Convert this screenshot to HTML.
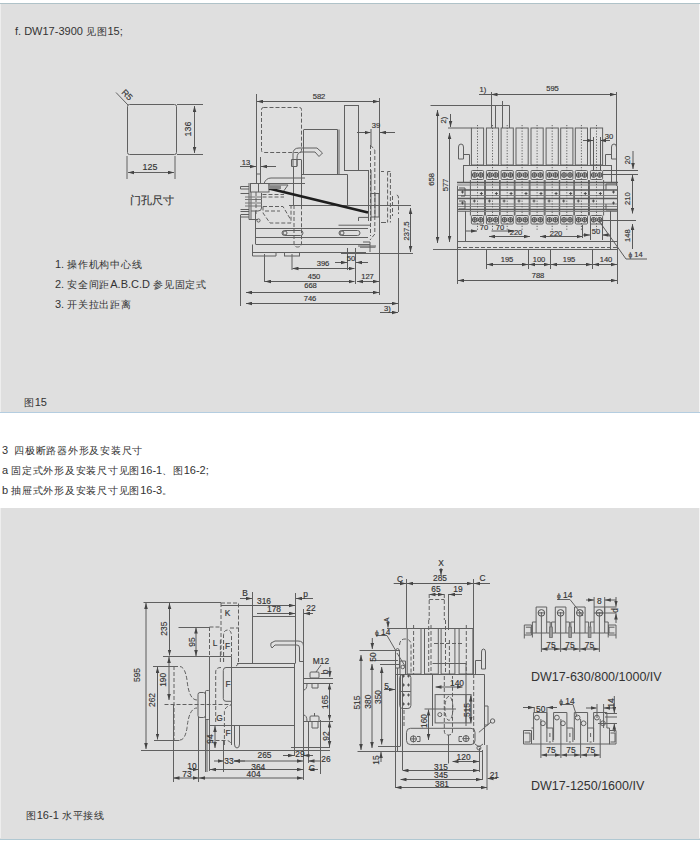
<!DOCTYPE html>
<html><head><meta charset="utf-8">
<style>
html,body{margin:0;padding:0;background:#fff;}
body{width:700px;height:844px;position:relative;overflow:hidden;font-family:"Liberation Sans",sans-serif;color:#333;}
.panel{position:absolute;left:0;width:700px;background:#dfdfdf;}
#p1{top:3px;height:410px;border-top:1px solid #afc2c8;border-bottom:1px solid #b4cde0;box-sizing:border-box;}
#p2{top:508px;height:332px;border-bottom:1px solid #b0c8d2;box-sizing:border-box;}
.edgeL{position:absolute;left:0;width:1px;background:#eeeeee;}
.edgeR{position:absolute;left:699px;width:1px;background:#f4f4f4;}
.t{position:absolute;white-space:nowrap;font-size:11px;line-height:12px;color:#333;}
svg{position:absolute;left:0;top:0;}
.c{font-size:10px;letter-spacing:0.75px;}
svg text{font-family:"Liberation Sans",sans-serif;fill:#333;stroke:#333;stroke-width:0.15px;}
</style></head>
<body>
<div class="panel" id="p1"></div>
<div class="panel" id="p2"></div>
<div class="edgeL" style="top:4px;height:408px"></div>
<div class="edgeR" style="top:4px;height:408px"></div>
<div class="edgeL" style="top:508px;height:330px"></div>
<div class="edgeR" style="top:508px;height:330px"></div>

<div class="t" style="left:15px;top:25px;">f. DW17-3900 <span class="c">见图</span>15;</div>
<div class="t" style="left:55px;top:258px;">1. <span class="c">操作机构中心线</span></div>
<div class="t" style="left:55px;top:278px;">2. <span class="c">安全间距</span>A.B.C.D <span class="c">参见固定式</span></div>
<div class="t" style="left:55px;top:298px;">3. <span class="c">开关拉出距离</span></div>
<div class="t" style="left:24px;top:396px;"><span class="c">图</span>15</div>
<div class="t" style="left:2px;top:444px;">3&nbsp; <span class="c">四极断路器外形及安装尺寸</span></div>
<div class="t" style="left:2px;top:464px;">a <span class="c">固定式外形及安装尺寸见图</span>16-1<span class="c">、图</span>16-2;</div>
<div class="t" style="left:2px;top:484px;">b <span class="c">抽屉式外形及安装尺寸见图</span>16-3<span class="c">。</span></div>
<div class="t" style="left:26px;top:809px;"><span class="c">图</span>16-1 <span class="c">水平接线</span></div>
<div class="t" style="left:531px;top:671px;font-size:12.5px;">DW17-630/800/1000/IV</div>
<div class="t" style="left:531px;top:780px;font-size:12.5px;">DW17-1250/1600/IV</div>

<svg width="700" height="844" viewBox="0 0 700 844" id="drw">
<defs>
<marker id="ar" viewBox="0 0 10 6" refX="10" refY="3" markerWidth="6" markerHeight="4" orient="auto-start-reverse" markerUnits="userSpaceOnUse"><path d="M0,0 L10,3 L0,6 z" fill="#444"/></marker>
</defs>
<g fill="none" stroke="#606060" stroke-width="1">
<!-- drawing 1: door hole -->
<rect x="127.5" y="104.5" width="49" height="50" rx="2"/>
<path d="M177,104.5H203 M177,154.5H203 M127,156V179 M175,156V179 M116,92.5L128,105"/>
<path d="M194.5,106V153" marker-start="url(#ar)" marker-end="url(#ar)"/><path d="M128,172.5H174" marker-start="url(#ar)" marker-end="url(#ar)"/>
</g>
<g font-size="8.9">
<text x="150" y="170" text-anchor="middle">125</text>
<text transform="translate(191,129) rotate(-90)" text-anchor="middle">136</text>
<text transform="translate(125,97) rotate(45)" text-anchor="middle">R5</text>
</g>
<text x="130" y="204" font-size="10.5">门孔尺寸</text>

<!-- drawing 2 : side view -->
<g fill="none" stroke="#606060" stroke-width="1">
<path d="M256.5,94V174 M379.5,98V295 M301.5,160V205 M293.5,166V205"/>
<path d="M303.5,130V174.5 M303.5,129.5H337.5V174.5 M339,129.5V174.5"/>
<rect x="344.5" y="105.5" width="14" height="65"/>
<path d="M301.5,174.5H347.5V205 M344.5,170.5H368 M368.5,170V221 M371,170V221 M289,205.5H411"/>
<path d="M338.5,225.2H370 M358.5,217.4H368 M358.5,217.4V221 M371,193.5H379V217H371 M375,193.5V217 M381,171.5H384 M381,222.5H386 M360,247.2H375.5"/>
<path d="M255.5,228.5H368 M255.5,237.5H368 M255.5,244.5H370 M252.5,252.5H366 M341,253.5H413 M255.5,211V244"/>
<path d="M252.5,244.5V256H276V252.5"/>
<rect x="284.5" y="252.5" width="15" height="3.5"/>
<rect x="282" y="230.5" width="21" height="5" rx="2.5"/>
<circle cx="285" cy="233" r="2"/>
<rect x="339" y="230.5" width="21" height="5" rx="2.5"/>
<circle cx="342" cy="233" r="2"/>
<rect x="250.5" y="183.5" width="18.5" height="8.5"/>
<path d="M258.5,183.5V192 M249,183V219.5H258 M251,192V219.5 M261.5,193V208 Q261.5,211 258,211 H251"/>
<path d="M240.5,186.5H249 M240.5,189H249 M240.5,186.5V189 M240.5,193.5H249 M240.5,209.5H249 M240.5,211.5H249 M240.5,214.5H249 M240.5,217H249 M240.5,215V306"/>
<path d="M245,197H262 M245,199.5H262 M245,203H262 M245,206H262" stroke="#777"/>
<circle cx="258.5" cy="220.5" r="1.6"/>
<path d="M271,178H305 M265,183.5H305 M264,183.5Q266,178 271,178 M268,185H288L283,192"/>
<path d="M256.5,157V183 M260.5,157V183 M256.5,174H260.5 M264.5,254V282 M292,254V270 M355.5,248V284 M398.5,218V312 M363,242H370V252 M358,246H376"/>
<path d="M293,166V154 Q293,148 299,148 H317 L322.5,153 L319,156.5 L315,152 H302 Q297,152 297,158 V166 M291.5,159.5H297V166.5H291.5Z M297,159.5H301.5"/>
</g>
<path d="M269,188.5L368,212.5" stroke="#1e1e1e" stroke-width="2.8" fill="none"/>
<path d="M268,185.5H281V189H268Z" fill="#888" stroke="none"/>
<g fill="none" stroke="#606060" stroke-width="1" stroke-dasharray="4,2">
<rect x="261.5" y="107.5" width="40" height="45" rx="2"/>
<path d="M294,205V243 Q294,247 297.5,247 Q301.5,247 301.5,243 V205"/>
<path d="M263,206.5H283L290,218.5 M263,206.5V213L270,223H291V205 M265,211H280"/>
<path d="M262.5,194.5H284 M262.5,197H284 M256,192V216"/>
<path d="M370.5,145V236 M374.8,150V234 M374.8,234L370,240 M370.5,145L374.8,150"/>
<path d="M387.6,171.5V222.5 M390.4,173V222.5 M387.6,171.5H390.4 M392.5,196V216"/>
<path d="M396.8,195Q398.5,195 398.5,198V214"/>
</g>
<g fill="none" stroke="#5a5a5a" stroke-width="1" marker-start="url(#ar)" marker-end="url(#ar)">
<path d="M257,101.5H379"/>
<path d="M410.5,208V252"/>
<path d="M292.5,268.5H354.5"/>
<path d="M265,281.5H354.5"/>
<path d="M357,281.5H379"/>
<path d="M246,292.5H379"/>
<path d="M246,303.5H398"/>
</g>
<g fill="none" stroke="#5a5a5a" stroke-width="1">
<path d="M240,166.5H256" marker-end="url(#ar)"/>
<path d="M276,166.5H261" marker-end="url(#ar)"/>
<path d="M357,132.5H370.5" marker-end="url(#ar)"/>
<path d="M395,132.5H380" marker-end="url(#ar)"/>
<path d="M335,262.5H347" marker-end="url(#ar)"/>
<path d="M368,262.5H356" marker-end="url(#ar)"/>
<path d="M371,129V145 M347.5,248V270"/>
<path d="M380,312.5H398" marker-end="url(#ar)"/>
</g>
<g font-size="7.6">
<text x="319" y="99" text-anchor="middle">582</text>
<text x="376" y="127.5" text-anchor="middle">39</text>
<text x="246" y="165" text-anchor="middle">13</text>
<text transform="translate(408.5,231) rotate(-90)" text-anchor="middle">237.5</text>
<text x="323" y="266" text-anchor="middle">396</text>
<text x="351" y="260.5" text-anchor="middle">50</text>
<text x="314" y="278.5" text-anchor="middle">450</text>
<text x="367.5" y="278.5" text-anchor="middle">127</text>
<text x="310.5" y="288" text-anchor="middle">668</text>
<text x="310" y="300.5" text-anchor="middle">746</text>
<text x="387.5" y="310.5" text-anchor="middle">3)</text>
</g>
<!-- drawing 3 : front view -->
<g fill="none" stroke="#606060" stroke-width="1">
<rect x="471.4" y="128" width="12.2" height="37"/>
<rect x="486.4" y="128" width="12.2" height="37"/>
<rect x="501.1" y="128" width="12.2" height="37"/>
<rect x="516.0" y="128" width="12.2" height="37"/>
<rect x="531.0" y="128" width="12.2" height="37"/>
<rect x="546.1" y="128" width="12.2" height="37"/>
<rect x="560.7" y="128" width="12.2" height="37"/>
<rect x="575.3" y="128" width="12.2" height="37"/>
<rect x="590.4" y="128" width="12.2" height="37"/>
<path d="M491.5,92V128 M430.5,105.5H509.5 M495.5,105.5V128 M509.5,105.5V128 M502.5,101V128 M448,128H471.4"/>
<path d="M458.5,159V147Q458.5,144 461,144Q463.5,144 463.5,147V159Z M463.5,154.5H469.5V165 M611.5,159V147Q611.5,144 614,144Q616.5,144 616.5,147V159Z M611.5,154.5H605.5V165"/>
<path d="M463.5,165.5H612 M463.5,165V182 M611.5,165V182 M616.5,92V186"/>
<rect x="471.4" y="170.5" width="12.2" height="9" rx="1"/>
<rect x="471.4" y="215.5" width="12.2" height="8.5" rx="1"/>
<path d="M470.4,180V215.5 M484.6,180V215.5"/>
<circle cx="474.7" cy="175" r="2.3" stroke="#444"/><path d="M472.4,175.0H477.0 M474.7,172.7V177.3" stroke="#555"/>
<circle cx="480.7" cy="175" r="2.3" stroke="#444"/><path d="M478.4,175.0H483.0 M480.7,172.7V177.3" stroke="#555"/>
<circle cx="474.7" cy="219.8" r="2.3" stroke="#444"/><path d="M472.4,219.8H477.0 M474.7,217.5V222.10000000000002" stroke="#555"/>
<circle cx="480.7" cy="219.8" r="2.3" stroke="#444"/><path d="M478.4,219.8H483.0 M480.7,217.5V222.10000000000002" stroke="#555"/>
<rect x="486.4" y="170.5" width="12.2" height="9" rx="1"/>
<rect x="486.4" y="215.5" width="12.2" height="8.5" rx="1"/>
<path d="M485.4,180V215.5 M499.6,180V215.5"/>
<circle cx="489.7" cy="175" r="2.3" stroke="#444"/><path d="M487.4,175.0H492.0 M489.7,172.7V177.3" stroke="#555"/>
<circle cx="495.7" cy="175" r="2.3" stroke="#444"/><path d="M493.4,175.0H498.0 M495.7,172.7V177.3" stroke="#555"/>
<circle cx="489.7" cy="219.8" r="2.3" stroke="#444"/><path d="M487.4,219.8H492.0 M489.7,217.5V222.10000000000002" stroke="#555"/>
<circle cx="495.7" cy="219.8" r="2.3" stroke="#444"/><path d="M493.4,219.8H498.0 M495.7,217.5V222.10000000000002" stroke="#555"/>
<rect x="501.1" y="170.5" width="12.2" height="9" rx="1"/>
<rect x="501.1" y="215.5" width="12.2" height="8.5" rx="1"/>
<path d="M500.1,180V215.5 M514.3,180V215.5"/>
<circle cx="504.4" cy="175" r="2.3" stroke="#444"/><path d="M502.1,175.0H506.7 M504.4,172.7V177.3" stroke="#555"/>
<circle cx="510.4" cy="175" r="2.3" stroke="#444"/><path d="M508.1,175.0H512.7 M510.4,172.7V177.3" stroke="#555"/>
<circle cx="504.4" cy="219.8" r="2.3" stroke="#444"/><path d="M502.1,219.8H506.7 M504.4,217.5V222.10000000000002" stroke="#555"/>
<circle cx="510.4" cy="219.8" r="2.3" stroke="#444"/><path d="M508.1,219.8H512.7 M510.4,217.5V222.10000000000002" stroke="#555"/>
<rect x="516.0" y="170.5" width="12.2" height="9" rx="1"/>
<rect x="516.0" y="215.5" width="12.2" height="8.5" rx="1"/>
<path d="M515.0,180V215.5 M529.2,180V215.5"/>
<circle cx="519.3" cy="175" r="2.3" stroke="#444"/><path d="M517.0,175.0H521.6 M519.3,172.7V177.3" stroke="#555"/>
<circle cx="525.3" cy="175" r="2.3" stroke="#444"/><path d="M523.0,175.0H527.6 M525.3,172.7V177.3" stroke="#555"/>
<circle cx="519.3" cy="219.8" r="2.3" stroke="#444"/><path d="M517.0,219.8H521.6 M519.3,217.5V222.10000000000002" stroke="#555"/>
<circle cx="525.3" cy="219.8" r="2.3" stroke="#444"/><path d="M523.0,219.8H527.6 M525.3,217.5V222.10000000000002" stroke="#555"/>
<rect x="531.0" y="170.5" width="12.2" height="9" rx="1"/>
<rect x="531.0" y="215.5" width="12.2" height="8.5" rx="1"/>
<path d="M530.0,180V215.5 M544.2,180V215.5"/>
<circle cx="534.3" cy="175" r="2.3" stroke="#444"/><path d="M532.0,175.0H536.6 M534.3,172.7V177.3" stroke="#555"/>
<circle cx="540.3" cy="175" r="2.3" stroke="#444"/><path d="M538.0,175.0H542.6 M540.3,172.7V177.3" stroke="#555"/>
<circle cx="534.3" cy="219.8" r="2.3" stroke="#444"/><path d="M532.0,219.8H536.6 M534.3,217.5V222.10000000000002" stroke="#555"/>
<circle cx="540.3" cy="219.8" r="2.3" stroke="#444"/><path d="M538.0,219.8H542.6 M540.3,217.5V222.10000000000002" stroke="#555"/>
<rect x="546.1" y="170.5" width="12.2" height="9" rx="1"/>
<rect x="546.1" y="215.5" width="12.2" height="8.5" rx="1"/>
<path d="M545.1,180V215.5 M559.3,180V215.5"/>
<circle cx="549.4" cy="175" r="2.3" stroke="#444"/><path d="M547.1,175.0H551.7 M549.4,172.7V177.3" stroke="#555"/>
<circle cx="555.4" cy="175" r="2.3" stroke="#444"/><path d="M553.1,175.0H557.7 M555.4,172.7V177.3" stroke="#555"/>
<circle cx="549.4" cy="219.8" r="2.3" stroke="#444"/><path d="M547.1,219.8H551.7 M549.4,217.5V222.10000000000002" stroke="#555"/>
<circle cx="555.4" cy="219.8" r="2.3" stroke="#444"/><path d="M553.1,219.8H557.7 M555.4,217.5V222.10000000000002" stroke="#555"/>
<rect x="560.7" y="170.5" width="12.2" height="9" rx="1"/>
<rect x="560.7" y="215.5" width="12.2" height="8.5" rx="1"/>
<path d="M559.7,180V215.5 M573.9,180V215.5"/>
<circle cx="564.0" cy="175" r="2.3" stroke="#444"/><path d="M561.7,175.0H566.3 M564.0,172.7V177.3" stroke="#555"/>
<circle cx="570.0" cy="175" r="2.3" stroke="#444"/><path d="M567.7,175.0H572.3 M570.0,172.7V177.3" stroke="#555"/>
<circle cx="564.0" cy="219.8" r="2.3" stroke="#444"/><path d="M561.7,219.8H566.3 M564.0,217.5V222.10000000000002" stroke="#555"/>
<circle cx="570.0" cy="219.8" r="2.3" stroke="#444"/><path d="M567.7,219.8H572.3 M570.0,217.5V222.10000000000002" stroke="#555"/>
<rect x="575.3" y="170.5" width="12.2" height="9" rx="1"/>
<rect x="575.3" y="215.5" width="12.2" height="8.5" rx="1"/>
<path d="M574.3,180V215.5 M588.5,180V215.5"/>
<circle cx="578.6" cy="175" r="2.3" stroke="#444"/><path d="M576.3,175.0H580.9 M578.6,172.7V177.3" stroke="#555"/>
<circle cx="584.6" cy="175" r="2.3" stroke="#444"/><path d="M582.3,175.0H586.9 M584.6,172.7V177.3" stroke="#555"/>
<circle cx="578.6" cy="219.8" r="2.3" stroke="#444"/><path d="M576.3,219.8H580.9 M578.6,217.5V222.10000000000002" stroke="#555"/>
<circle cx="584.6" cy="219.8" r="2.3" stroke="#444"/><path d="M582.3,219.8H586.9 M584.6,217.5V222.10000000000002" stroke="#555"/>
<rect x="590.4" y="170.5" width="12.2" height="9" rx="1"/>
<rect x="590.4" y="215.5" width="12.2" height="8.5" rx="1"/>
<path d="M589.4,180V215.5 M603.6,180V215.5"/>
<circle cx="593.7" cy="175" r="2.3" stroke="#444"/><path d="M591.4,175.0H596.0 M593.7,172.7V177.3" stroke="#555"/>
<circle cx="599.7" cy="175" r="2.3" stroke="#444"/><path d="M597.4,175.0H602.0 M599.7,172.7V177.3" stroke="#555"/>
<circle cx="593.7" cy="219.8" r="2.3" stroke="#444"/><path d="M591.4,219.8H596.0 M593.7,217.5V222.10000000000002" stroke="#555"/>
<circle cx="599.7" cy="219.8" r="2.3" stroke="#444"/><path d="M597.4,219.8H602.0 M599.7,217.5V222.10000000000002" stroke="#555"/>
<path d="M457,182.5H618 M457,190H618 M457,198.5H618 M457,209.5H618" stroke="#5a5a5a" stroke-width="1.3"/><path d="M457,185H618 M457,195.5H618 M457,204H618 M457,206.5H618 M457,211.5H618" stroke="#808080"/>
<path d="M457.5,186V284 M465.5,211V241 M617.5,186V284 M610.5,211V241 M457,241.5H618 M433,249.5H618"/>
<path d="M459,188H465V196H461 M459,201H465V209H459" stroke="#555"/>
</g>
<path d="M479.9,193.5h3M481.4,192v3 M472.9,201h3M474.4,199.5v3 M494.9,193.5h3M496.4,192v3 M487.9,201h3M489.4,199.5v3 M509.6,193.5h3M511.1,192v3 M502.6,201h3M504.1,199.5v3 M524.5,193.5h3M526.0,192v3 M517.5,201h3M519.0,199.5v3 M539.5,193.5h3M541.0,192v3 M532.5,201h3M534.0,199.5v3 M554.6,193.5h3M556.1,192v3 M547.6,201h3M549.1,199.5v3 M569.2,193.5h3M570.7,192v3 M562.2,201h3M563.7,199.5v3 M583.8,193.5h3M585.3,192v3 M576.8,201h3M578.3,199.5v3 M598.9,193.5h3M600.4,192v3 M591.9,201h3M593.4,199.5v3 M461,192h3M462.5,190.5v3 M461,203h3M462.5,201.5v3 M612,192h3M613.5,190.5v3 M612,203h3M613.5,201.5v3" stroke="#444" stroke-width="0.9" fill="none"/>
<path d="M477.5,125V230 M492.5,125V230 M507.2,125V230 M522.1,125V230 M537.1,125V230 M552.2,125V230 M566.8,125V230 M581.4,125V230 M596.5,125V230" stroke="#555" stroke-width="0.9" stroke-dasharray="1.2,1.6" fill="none"/>
<path d="M457,247.5H618" stroke="#606060" stroke-dasharray="4,2" fill="none"/>
<g fill="none" stroke="#5a5a5a" stroke-width="1">
<path d="M491.5,94.5H616" marker-start="url(#ar)" marker-end="url(#ar)"/>
<path d="M479,94.5H491"/>
<path d="M437.5,110V243" marker-start="url(#ar)" marker-end="url(#ar)"/>
<path d="M449.5,133V242" marker-start="url(#ar)" marker-end="url(#ar)"/>
<path d="M450.5,114V127" marker-end="url(#ar)"/>
<path d="M583,140.5H593" marker-end="url(#ar)"/><path d="M610,140.5H600" marker-end="url(#ar)"/><path d="M593.5,137V170 M600.5,137V170"/>
<path d="M633,151V169" marker-end="url(#ar)"/>
<path d="M603,170.5H638 M603,174.5H638 M600,220.5H636"/>
<path d="M632.5,175V213.5" marker-start="url(#ar)" marker-end="url(#ar)"/>
<path d="M632.5,224V249" marker-start="url(#ar)"/>
<path d="M466,231H477" marker-end="url(#ar)"/><path d="M491.5,231H514" marker-end="url(#ar)"/>
<path d="M489,236.5H530" marker-start="url(#ar)" marker-end="url(#ar)"/><path d="M540,236.5H582.5" marker-start="url(#ar)" marker-end="url(#ar)"/>
<path d="M583,235H590" marker-end="url(#ar)"/><path d="M610,235H602.5" marker-end="url(#ar)"/>
<path d="M582.5,225V238 M590.5,222V240 M602.5,222V240 M610.5,212V250 M606,184H617 M606,184V190 M606,210H617 M606,204V210"/>
<path d="M486.5,249V269 M528.5,249V269 M550.5,249V269 M592.5,249V269"/>
<path d="M487,264.5H528" marker-start="url(#ar)" marker-end="url(#ar)"/><path d="M529,264.5H550" marker-start="url(#ar)" marker-end="url(#ar)"/><path d="M551,264.5H592" marker-start="url(#ar)" marker-end="url(#ar)"/><path d="M593,264.5H617" marker-start="url(#ar)" marker-end="url(#ar)"/>
<path d="M458,280.5H617" marker-start="url(#ar)" marker-end="url(#ar)"/>
<path d="M599,221L626,259H647"/>
</g>
<g font-size="7.6">
<text x="552.5" y="91" text-anchor="middle">595</text>
<text x="483" y="92" text-anchor="middle">1)</text>
<text x="609" y="139" text-anchor="middle">30</text>
<text x="507" y="262" text-anchor="middle">195</text>
<text x="539" y="262" text-anchor="middle">100</text>
<text x="569" y="262" text-anchor="middle">195</text>
<text x="606" y="262" text-anchor="middle">140</text>
<text x="538" y="277.5" text-anchor="middle">788</text>
<text x="484" y="229.8" text-anchor="middle">70</text>
<text x="500" y="229.8" text-anchor="middle">70</text>
<text x="516" y="235" text-anchor="middle">220</text>
<text x="556" y="235.5" text-anchor="middle">220</text>
<text x="596" y="233.5" text-anchor="middle">50</text>
<text transform="translate(433.5,179.3) rotate(-90)" text-anchor="middle">658</text>
<text transform="translate(447.5,185) rotate(-90)" text-anchor="middle">577</text>
<text transform="translate(445.5,120) rotate(-90)" text-anchor="middle">2)</text>
<text transform="translate(629.5,160) rotate(-90)" text-anchor="middle">20</text>
<text transform="translate(629.5,198.6) rotate(-90)" text-anchor="middle">210</text>
<text transform="translate(629.5,235.7) rotate(-90)" text-anchor="middle">148</text>
<text x="628.5" y="257"><tspan font-size="6.5">ϕ</tspan> 14</text>
</g>
<!-- bottom drawing 1 : side view -->
<g fill="none" stroke="#606060" stroke-width="1">
<path d="M143.5,602.5H221 M178.5,627.5H209 M163,656.5H209.5 M153,666.5H178 M154,740.5H179.5 M141,750.5H330"/>
<path d="M209.5,656.5V771 M209.5,656.5H231.5V745 M209.5,725.5H231.5 M231.5,667.5H226Q223.3,667.5 223.3,670.5V698.5Q223.3,701.3 226,701.3H231.5"/>
<rect x="198" y="692.5" width="7.5" height="25" rx="2"/><rect x="205.5" y="690.5" width="4" height="29" rx="1"/>
<path d="M198.5,717V782 M205.5,719V772 M207,719V772"/>
<path d="M252.5,592V663 M295.5,593V663 M303.5,609V780 M252.5,616.5H295.5"/>
<path d="M237,663.5H295.5 M230,667.5H294.5 M294.5,663V756 M232,725.5H294.5 M232,750.5H294.5"/>
<path d="M234.5,725.5V744Q234.5,748 237,748Q239.5,748 239.5,744V725.5"/>
<path d="M271,643Q270,646 272,648L275,645H297Q299.5,645 299.5,648V661.5H303.5V646Q303.5,641 298,641H275Z"/>
<path d="M303,678.5H333 M303,683.5H333 M303,721.5H333 M291,747.5H330 M308.5,721V763 M320.5,720V774"/>
<rect x="310" y="672" width="9" height="6" rx="1"/><path d="M312,683.5V688H318V683.5 M307,683.5Q307,690 303.5,690"/>
<rect x="310" y="716" width="9" height="5.5" rx="1"/><path d="M312,721.5V728H318V721.5 M314.5,713V716 M307,721.5Q307,715 303.5,715"/>
<path d="M321,665L316,672"/>
<path d="M173.5,704V782 M223.5,740V772"/>
</g>
<g fill="none" stroke="#606060" stroke-width="1" stroke-dasharray="4,2">
<path d="M221,603V656 M221,603H238.5V657 M230,628H238.5 M209.5,627V656 M209.5,627H221"/>
<path d="M223.5,662V636Q223.5,630 227.5,630Q231.5,630 231.5,636V656"/>
<path d="M164.5,704.5H231 M174,666V740"/>
<path d="M180,666.5Q185,667 187,680Q189,700 197,700 M180,740Q185,740 187,728Q189,708 197,708"/>
<path d="M215.7,722V672Q215.7,667.5 221,667.5 M224.4,745V712Q224.4,707 231,705 M209.5,740.5H226Q231,740.5 231,745 M220.4,640V664 M223.6,640V664 M238.5,628V662Q238.5,665 236,666"/>
</g>
<g fill="none" stroke="#5a5a5a" stroke-width="1">
<path d="M146,603V749" marker-start="url(#ar)" marker-end="url(#ar)"/><path d="M169.5,603V655.5" marker-start="url(#ar)" marker-end="url(#ar)"/><path d="M196,627.5V656" marker-start="url(#ar)" marker-end="url(#ar)"/><path d="M169,657V700" marker-start="url(#ar)" marker-end="url(#ar)"/><path d="M157.5,667V739.5" marker-start="url(#ar)" marker-end="url(#ar)"/><path d="M215,726V748" marker-start="url(#ar)" marker-end="url(#ar)"/><path d="M329.5,683.5V720.5" marker-start="url(#ar)" marker-end="url(#ar)"/><path d="M329.5,721.5V747" marker-start="url(#ar)" marker-end="url(#ar)"/>
<path d="M173.5,778H198.5" marker-start="url(#ar)" marker-end="url(#ar)"/><path d="M199,778H303" marker-start="url(#ar)" marker-end="url(#ar)"/><path d="M210,769.5H303" marker-start="url(#ar)" marker-end="url(#ar)"/><path d="M234,761H303" marker-start="url(#ar)" marker-end="url(#ar)"/>
<path d="M221,605.5H295" marker-end="url(#ar)"/><path d="M257,613.5H295" marker-end="url(#ar)"/>
<path d="M240,598.5H252" marker-end="url(#ar)"/><path d="M313,598.5H296" marker-end="url(#ar)"/><path d="M313,613.5H304" marker-end="url(#ar)"/>
<path d="M189.5,769.5H198.5" marker-end="url(#ar)"/>
<path d="M214,761H223.5" marker-end="url(#ar)"/><path d="M245,761H234" marker-end="url(#ar)"/>
<path d="M283,755.5H294" marker-end="url(#ar)"/><path d="M313,755.5H303.5" marker-end="url(#ar)"/>
<path d="M320.5,761H308.5" marker-end="url(#ar)"/>
<path d="M318,769.5H308.5" marker-end="url(#ar)"/>
<path d="M329.8,667V677" marker-end="url(#ar)"/>
</g>
<g font-size="8.4">
<text x="264" y="603.5" text-anchor="middle">316</text>
<text x="274" y="611.5" text-anchor="middle">178</text>
<text x="245" y="596" text-anchor="middle">B</text>
<text x="305.5" y="597" text-anchor="middle">p</text>
<text x="311" y="610.5" text-anchor="middle">22</text>
<text x="321" y="664" text-anchor="middle">M12</text>
<text x="264.5" y="758" text-anchor="middle">265</text>
<text x="300" y="757" text-anchor="middle">29</text>
<text x="326" y="761.5" text-anchor="middle">26</text>
<text x="258.3" y="769.5" text-anchor="middle">364</text>
<text x="311.7" y="771" text-anchor="middle">C</text>
<text x="253.6" y="777" text-anchor="middle">404</text>
<text x="192" y="768.5" text-anchor="middle">10</text>
<text x="187" y="777" text-anchor="middle">73</text>
<text x="229" y="764" text-anchor="middle">33</text>
<text transform="translate(140,675) rotate(-90)" text-anchor="middle">595</text>
<text transform="translate(167,628.7) rotate(-90)" text-anchor="middle">235</text>
<text transform="translate(194.5,642) rotate(-90)" text-anchor="middle">95</text>
<text transform="translate(166,679.8) rotate(-90)" text-anchor="middle">190</text>
<text transform="translate(155,700) rotate(-90)" text-anchor="middle">262</text>
<text transform="translate(213,739) rotate(-90)" text-anchor="middle">94</text>
<text transform="translate(327.5,702) rotate(-90)" text-anchor="middle">165</text>
<text transform="translate(329,736) rotate(-90)" text-anchor="middle">92</text>
<text transform="translate(328,672) rotate(-90)" text-anchor="middle">b</text>
<text x="227.5" y="616" text-anchor="middle">K</text>
<text x="215" y="646" text-anchor="middle">L</text>
<text x="227.5" y="649" text-anchor="middle">F</text>
<text x="228" y="687" text-anchor="middle">F</text>
<text x="219.6" y="720.5" text-anchor="middle">G</text>
<text x="228" y="735.5" text-anchor="middle">F</text>
</g>
<!-- bottom drawing 2 : front view -->
<g fill="none" stroke="#606060" stroke-width="1">
<rect x="407.2" y="628.5" width="13.8" height="45.5"/>
<rect x="424.5" y="628.5" width="13.8" height="45.5"/>
<rect x="441.1" y="628.5" width="13.8" height="45.5"/>
<rect x="459.1" y="628.5" width="13.8" height="45.5"/>
<path d="M406.5,579V628.5 M473.5,579V674 M448.5,594V630 M387,628.5H473.5"/>
<path d="M359.5,650.5H400 M370,660.5H398 M380,664.5H400"/>
<path d="M396,674.5H484.5V745 M395.5,668V788 M397.5,668V751 M400.5,674V746 M402.5,674V770"/>
<path d="M395.5,668V652Q395.5,648.5 397.5,648.5Q399.5,648.5 399.5,652V668Z M400,674V661H405.5V674"/><circle cx="402.7" cy="667" r="1.8" fill="none" stroke="#606060"/>
<path d="M481.5,669V652Q481.5,649 483.5,649Q485.5,649 485.5,652V669Z M481,660.5H475.5V674"/>
<rect x="399.7" y="674.5" width="11.2" height="34" rx="3"/>
<path d="M399.7,691.5H410.9"/>
<path d="M432.5,674V726 M466,674V726 M432.5,663.5H466V674"/>
<rect x="435.1" y="694.6" width="36" height="28.3"/>
<path d="M466,694.6V722.9"/>
<circle cx="439.8" cy="714.6" r="2"/>
<path d="M424.5,709H456"/>
<rect x="406.5" y="728.3" width="68.5" height="16.3" rx="4"/>
<circle cx="413.4" cy="738.9" r="3"/><path d="M410,738.9H417 M413.4,735.5V742.3 M417,736.5H420V741.5H417"/>
<circle cx="466" cy="738.6" r="3"/><path d="M462.5,738.6H469.5 M466,735V742 M462,736.5H459V741.5H462"/>
<path d="M448.5,735V763.5 M357.5,751.5H482 M378,746.5H400.5"/>
<circle cx="478.9" cy="747.9" r="2"/><path d="M475,744L479,747L483,744"/>
<path d="M479.5,748V772 M482.5,750V780 M487,745V790 M485,706H488V725H485"/>
<path d="M478.9,732.3L491,722"/><circle cx="492.6" cy="721" r="2.2"/>
<path d="M376,635.5H387L396,651 M397,653L405,666"/>
<path d="M402,676h3M403.5,674.5v3 M407,676h3M408.5,674.5v3 M402,685h3M403.5,683.5v3 M407,685h3M408.5,683.5v3 M402,695h3M403.5,693.5v3 M407,695h3M408.5,693.5v3 M402,704h3M403.5,702.5v3 M407,704h3M408.5,702.5v3" stroke="#555"/>
</g>
<g fill="none" stroke="#606060" stroke-width="1" stroke-dasharray="4,2">
<path d="M429.2,594V620 M444.3,594V620 M429.2,599.5H444.3"/><path d="M413.6,625V674 M428.7,620V674 M431,625V674 M445.5,620V674 M449.4,640V674 M466.3,625V674 M434,643.5H463 M399.5,645Q400,639 405,639Q411,639 411,645V674"/>




<path d="M444.3,676V731Q444.3,735 448.5,735Q452.5,735 452.5,731V676"/>
<ellipse cx="448.9" cy="708.3" rx="4" ry="12"/>
<path d="M473.7,674V745 M404,710V728"/>
</g>
<g fill="none" stroke="#5a5a5a" stroke-width="1">
<path d="M407,583.5H473" marker-start="url(#ar)" marker-end="url(#ar)"/><path d="M361,655V750" marker-start="url(#ar)" marker-end="url(#ar)"/><path d="M372,664V748" marker-start="url(#ar)" marker-end="url(#ar)"/><path d="M381.7,667V744.5" marker-start="url(#ar)" marker-end="url(#ar)"/><path d="M435.5,687H462.5" marker-start="url(#ar)" marker-end="url(#ar)"/><path d="M470.8,695.5V722.5" marker-start="url(#ar)" marker-end="url(#ar)"/><path d="M428.5,709.5V740" marker-start="url(#ar)" marker-end="url(#ar)"/><path d="M452.5,761.5H479" marker-start="url(#ar)" marker-end="url(#ar)"/><path d="M402.5,770.5H479" marker-start="url(#ar)" marker-end="url(#ar)"/><path d="M400.5,779.5H482" marker-start="url(#ar)" marker-end="url(#ar)"/><path d="M395.5,787.5H487" marker-start="url(#ar)" marker-end="url(#ar)"/>
<path d="M393.7,583.5H406" marker-end="url(#ar)"/><path d="M490,583.5H474" marker-end="url(#ar)"/>
<path d="M441,568V575" marker-end="url(#ar)"/>
<path d="M429.5,594.5H444" marker-start="url(#ar)" marker-end="url(#ar)"/><path d="M462,594.5H449" marker-end="url(#ar)"/>
<path d="M388,622V627.5" marker-end="url(#ar)"/>
<path d="M372.3,638V649" marker-end="url(#ar)"/>
<path d="M384,689.5H395" marker-end="url(#ar)"/>
<path d="M381,762V752" marker-end="url(#ar)"/>
<path d="M497,778.5H487.5" marker-end="url(#ar)"/>
</g>
<g font-size="8.4">
<text x="441" y="566" text-anchor="middle">X</text>
<text x="440" y="581" text-anchor="middle">285</text>
<text x="400" y="582" text-anchor="middle">C</text>
<text x="482.5" y="581" text-anchor="middle">C</text>
<text x="436" y="592" text-anchor="middle">65</text>
<text x="458" y="592" text-anchor="middle">19</text>
<text x="386.5" y="689" text-anchor="middle">5</text>
<text x="457" y="686" text-anchor="middle">140</text>
<text x="463.6" y="760" text-anchor="middle">120</text>
<text x="441" y="769.5" text-anchor="middle">315</text>
<text x="441" y="778" text-anchor="middle">345</text>
<text x="442" y="787" text-anchor="middle">381</text>
<text x="494.3" y="777.5" text-anchor="middle">21</text>
<text x="375" y="635"><tspan font-size="6.5">ϕ</tspan> 14</text>
<text transform="translate(359.5,702.6) rotate(-90)" text-anchor="middle">515</text>
<text transform="translate(371,701.7) rotate(-90)" text-anchor="middle">380</text>
<text transform="translate(381,697) rotate(-90)" text-anchor="middle">350</text>
<text transform="translate(376,657) rotate(-90)" text-anchor="middle">50</text>
<text transform="translate(378.5,760) rotate(-90)" text-anchor="middle">15</text>
<text transform="translate(469.5,710) rotate(-90)" text-anchor="middle">515</text>
<text transform="translate(427,721) rotate(-90)" text-anchor="middle">160</text>
<text transform="translate(389,620) rotate(-90)" text-anchor="middle" font-size="7">A</text>
</g>
<!-- bottom drawing 3 : terminals -->
<g fill="none" stroke="#606060" stroke-width="1">
<path d="M536.1,633V607H546.7V633Z"/>
<circle cx="541.4" cy="612.9" r="3.3" stroke="#505050"/>
<path d="M532.4,637.5V622H536.1 M546.7,622H550.2V637.5 M532.4,633H536.1 M546.7,633H550.2 M538.1,612.9H544.7"/>
<path d="M555.3,633V607H565.9V633Z"/>
<circle cx="560.6" cy="612.9" r="3.3" stroke="#505050"/>
<path d="M551.6,637.5V622H555.3 M565.9,622H569.4V637.5 M551.6,633H555.3 M565.9,633H569.4 M557.3,612.9H563.9"/>
<path d="M574.5,633V607H585.1V633Z"/>
<circle cx="579.8" cy="612.9" r="3.3" stroke="#505050"/>
<path d="M570.8,637.5V622H574.5 M585.1,622H588.6V637.5 M570.8,633H574.5 M585.1,633H588.6 M576.5,612.9H583.1"/>
<path d="M594.1,633V607H604.7V633Z"/>
<circle cx="599.4" cy="612.9" r="3.3" stroke="#505050"/>
<path d="M590.4,637.5V622H594.1 M604.7,622H608.2V637.5 M590.4,633H594.1 M604.7,633H608.2 M596.1,612.9H602.7"/>
<rect x="549.6" y="627" width="2.8" height="10.5" fill="#9a9a9a" stroke="#707070" stroke-width="0.8"/>
<rect x="568.8" y="627" width="2.8" height="10.5" fill="#9a9a9a" stroke="#707070" stroke-width="0.8"/>
<rect x="588.2" y="627" width="2.8" height="10.5" fill="#9a9a9a" stroke="#707070" stroke-width="0.8"/>
<path d="M524.3,638.5V625H531.6V635H524.3 M525.8,627.2H531V633H525.8"/>
<path d="M616,638.5V625H608.5V635H616 M614.5,627.2H609V633H614.5"/>
<path d="M541.4,612V652 M560.6,612V652 M579.8,612V652 M599.4,612V652 M594.1,597V607 M604.7,597V622 M604.7,607H616.5 M594,613H616.5 M557,599.5H570L583,616"/>
</g>
<g fill="none" stroke="#5a5a5a" stroke-width="1">
<path d="M541.5,649H560" marker-start="url(#ar)" marker-end="url(#ar)"/><path d="M560.8,649H579.3" marker-start="url(#ar)" marker-end="url(#ar)"/><path d="M580,649H599.3" marker-start="url(#ar)" marker-end="url(#ar)"/>
<path d="M586,600H594" marker-end="url(#ar)"/><path d="M616,600H604.8" marker-end="url(#ar)"/>
<path d="M616,597V606.5" marker-end="url(#ar)"/><path d="M616,623V613.5" marker-end="url(#ar)"/>
</g>
<g fill="none" stroke="#606060" stroke-width="1">
<path d="M533.6,740V712.5H546.9V728"/>
<circle cx="536.9" cy="717.6" r="2.4"/><circle cx="542.9" cy="723.3" r="2.4"/>
<path d="M553.6,740V712.5H566.9V728"/>
<circle cx="556.9" cy="717.6" r="2.4"/><circle cx="562.9" cy="723.3" r="2.4"/>
<path d="M574.3,740V712.5H587.5999999999999V728"/>
<circle cx="577.6" cy="717.6" r="2.4"/><circle cx="583.6" cy="723.3" r="2.4"/>
<path d="M593.6,740V712.5H606.9V728"/>
<circle cx="596.9" cy="717.6" r="2.4"/><circle cx="602.9" cy="723.3" r="2.4"/>
<path d="M546.9,728V742 M552.9,728V742 M546.9,728H552.9 M548.9,742H550.9 M549.9,733V737" />
<path d="M566.9,728V742 M572.9,728V742 M566.9,728H572.9 M568.9,742H570.9 M569.9,733V737" />
<path d="M587.5999999999999,728V742 M593.5999999999999,728V742 M587.5999999999999,728H593.5999999999999 M589.5999999999999,742H591.5999999999999 M590.5999999999999,733V737" />
<path d="M523.5,730.5H531.5V744H523.5Z M524.5,733H530V742H524.5 M531.5,728H533.6 M531.5,744H610 M606.9,728H609.5V744 M609.5,730.5H616V744H609.5 M610.5,733H615V742H610.5"/>
<path d="M540.9,719V758 M560.9,719V758 M580.6,719V758 M600.2,719V758 M534.3,707V712 M546.9,707V728 M597,704V718 M603.6,704V728 M605,713.5H617 M605,717H617 M598,723.5H617 M560,704.5H573L577,717"/>
</g>
<g fill="none" stroke="#5a5a5a" stroke-width="1">
<path d="M541.3,755H560.5" marker-start="url(#ar)" marker-end="url(#ar)"/><path d="M561.3,755H580.2" marker-start="url(#ar)" marker-end="url(#ar)"/><path d="M581,755H599.8" marker-start="url(#ar)" marker-end="url(#ar)"/>
<path d="M523,707.5H534" marker-end="url(#ar)"/><path d="M557,707.5H547.3" marker-end="url(#ar)"/>
<path d="M586,708H596.5" marker-end="url(#ar)"/><path d="M614,708H604" marker-end="url(#ar)"/>
<path d="M614.3,696V713" marker-end="url(#ar)"/><path d="M614.3,732V723.8" marker-end="url(#ar)"/>
</g>
<g font-size="8.4">
<text x="551" y="647.5" text-anchor="middle">75</text>
<text x="570" y="647.5" text-anchor="middle">75</text>
<text x="589.5" y="647.5" text-anchor="middle">75</text>
<text x="599.3" y="603.5" text-anchor="middle">8</text>
<text x="551" y="753" text-anchor="middle">75</text>
<text x="571" y="753" text-anchor="middle">75</text>
<text x="590.5" y="753" text-anchor="middle">75</text>
<text x="540.7" y="711.5" text-anchor="middle">50</text>
<text x="557" y="598.3"><tspan font-size="6.5">ϕ</tspan> 14</text><text x="559.3" y="704.3"><tspan font-size="6.5">ϕ</tspan> 14</text>
<text transform="translate(617.5,610.3) rotate(-90)" text-anchor="middle">d</text>
<text transform="translate(614,702.9) rotate(-90)" text-anchor="middle">14</text>
</g>
</svg>
</body></html>
